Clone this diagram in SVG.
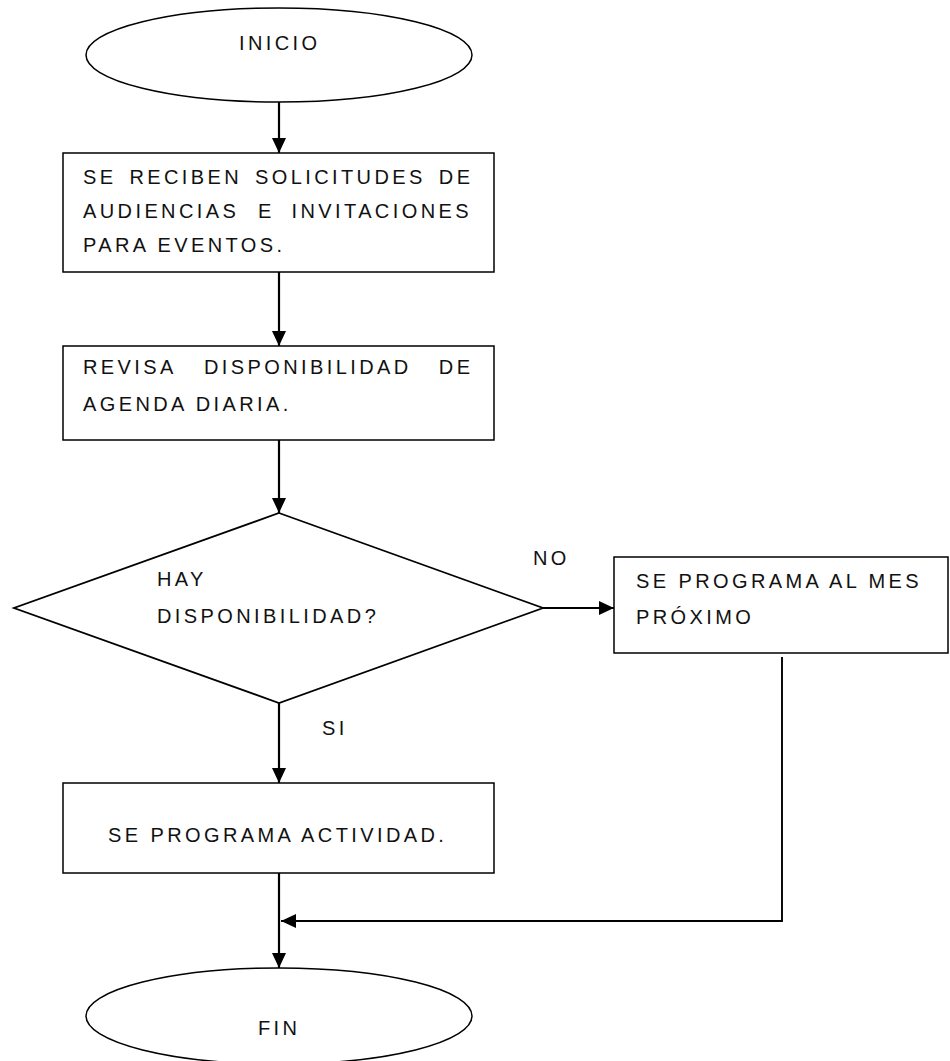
<svg xmlns="http://www.w3.org/2000/svg" width="950" height="1061" viewBox="0 0 950 1061">
  <defs>
    <marker id="arrow" viewBox="0 0 15 14" refX="15" refY="7" markerWidth="15" markerHeight="14" markerUnits="userSpaceOnUse" orient="auto">
      <path d="M0,0 L15,7 L0,14 Z" fill="#000"/>
    </marker>
    <style>
      .shape { fill: #fff; stroke: #000; stroke-width: 1.5; }
      .conn { fill: none; stroke: #000; stroke-width: 2.2; }
      .thin { fill: none; stroke: #000; stroke-width: 1.9; }
      text { font-family: "Liberation Sans", Arial, sans-serif; font-size: 20px; letter-spacing: 3.4px; fill: #111; }
    </style>
  </defs>

  <rect width="950" height="1061" fill="#fff"/>

  <!-- connectors -->
  <g id="connectors">
    <path class="conn" d="M279,102 V153" marker-end="url(#arrow)"/>
    <path class="conn" d="M279,272 V346" marker-end="url(#arrow)"/>
    <path class="conn" d="M279,440 V513" marker-end="url(#arrow)"/>
    <path class="conn" d="M543,608 H614" marker-end="url(#arrow)"/>
    <path class="conn" d="M279,703 V783" marker-end="url(#arrow)"/>
    <path class="conn" d="M279,873 V968" marker-end="url(#arrow)"/>
    <path class="thin" d="M782,657 V921 H281" marker-end="url(#arrow)"/>
  </g>

  <!-- start -->
  <g id="inicio">
    <ellipse class="shape" cx="279" cy="55" rx="193" ry="47"/>
    <text x="239" y="50">INICIO</text>
  </g>

  <!-- requests received -->
  <g id="recibir">
    <rect class="shape" x="63" y="153" width="431" height="119"/>
    <text y="183.5"><tspan x="83">SE</tspan><tspan x="129.4">RECIBEN</tspan><tspan x="255">SOLICITUDES</tspan><tspan x="438.8">DE</tspan></text>
    <text y="217.5"><tspan x="83">AUDIENCIAS</tspan><tspan x="258">E</tspan><tspan x="291.5">INVITACIONES</tspan></text>
    <text x="83" y="251.5">PARA EVENTOS.</text>
  </g>

  <!-- check agenda -->
  <g id="revisar">
    <rect class="shape" x="63" y="346" width="431" height="94"/>
    <text y="374"><tspan x="83">REVISA</tspan><tspan x="204">DISPONIBILIDAD</tspan><tspan x="438.8">DE</tspan></text>
    <text x="83" y="411">AGENDA DIARIA.</text>
  </g>

  <!-- decision -->
  <g id="decision">
    <polygon class="shape" style="stroke-width:1.8" points="279,513 543,608 279,703 14,608"/>
    <text x="157" y="586">HAY</text>
    <text x="157" y="623">DISPONIBILIDAD?</text>
  </g>

  <g id="label-no">
    <text x="533" y="565">NO</text>
  </g>
  <g id="label-si">
    <text x="322" y="735">SI</text>
  </g>

  <!-- next month -->
  <g id="mes-proximo">
    <rect class="shape" x="614" y="557" width="334" height="96"/>
    <text x="636" y="588">SE PROGRAMA AL MES</text>
    <text x="636" y="624">PRÓXIMO</text>
  </g>

  <!-- schedule activity -->
  <g id="programar">
    <rect class="shape" x="63" y="783" width="431" height="90"/>
    <text x="108" y="842">SE PROGRAMA ACTIVIDAD.</text>
  </g>

  <!-- end -->
  <g id="fin">
    <ellipse class="shape" cx="279" cy="1016" rx="193" ry="48"/>
    <text x="258" y="1035">FIN</text>
  </g>
</svg>
